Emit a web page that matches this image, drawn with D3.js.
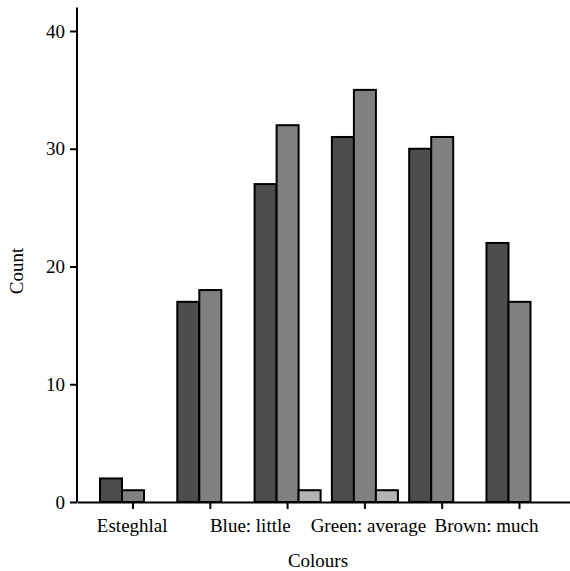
<!DOCTYPE html>
<html>
<head>
<meta charset="utf-8">
<style>
  body { margin: 0; background: #fff; }
  svg text { font-family: "Liberation Serif", "Times New Roman", Times, "DejaVu Serif", serif; fill: #000; }
</style>
</head>
<body>
<div class="chartContainer"></div>

<script src="https://d3js.org/d3.v7.min.js"></script>
<script>
    // data
    const groups = ['g1', 'g2', 'g3', 'g4', 'g5', 'g6'];
    const labels = ['Esteghlal', 'Blue: little', 'Green: average', 'Brown: much'];
    const series = ['s1', 's2', 's3'];
    const s1 = [2, 17, 27, 31, 30, 22];
    const s2 = [1, 18, 32, 35, 31, 17];
    const s3 = [0, 0, 1, 1, 0, 0];
    const yTicks = [0, 10, 20, 30, 40];
    const colours = ['#4d4d4d', '#808080', '#b3b3b3'];

    const values = [s1, s2, s3];
    const rows = groups.map((g, i) => ({ group: g, vals: series.map((s, j) => ({ key: s, v: values[j][i] })) }));

    const W = 570, H = 571;
    const FONT = '"Liberation Serif", "Times New Roman", Times, "DejaVu Serif", serif';
    const svg = d3.select('.chartContainer')
                  .append('svg')
                  .attr('width', W)
                  .attr('height', H)
                  .attr('font-family', FONT);

    const y = d3.scaleLinear().domain([0, 40]).range([502, 31]);
    const yTop = y(42);

    const x = d3.scaleBand().domain(groups).range([77, 570])
                .paddingInner(0.146).paddingOuter(0.262).align(0.568);
    const xs = d3.scaleBand().domain(series).range([0, x.bandwidth()]);
    const xl = d3.scalePoint().domain(labels).range([131.7, 486]);

    // bars
    svg.append('g')
       .selectAll('g')
       .data(rows)
       .enter()
       .append('g')
       .attr('transform', d => `translate(${x(d.group)},0)`)
       .selectAll('rect')
       .data(d => d.vals.filter(e => e.v > 0))
       .enter()
       .append('rect')
       .attr('x', d => xs(d.key))
       .attr('width', xs.bandwidth())
       .attr('y', d => y(d.v))
       .attr('height', d => y(0) - y(d.v))
       .style('fill', d => colours[series.indexOf(d.key)])
       .style('stroke', '#000')
       .style('stroke-width', 2);

    // y axis
    const yAxis = svg.append('g')
       .attr('transform', 'translate(77,0)')
       .call(d3.axisLeft(y).tickValues(yTicks).tickSize(7).tickPadding(5).tickSizeOuter(0));
    yAxis.attr('font-family', null);
    yAxis.select('.domain').attr('d', `M0,${yTop}V${y(0)}`);
    yAxis.selectAll('line, path').style('stroke', '#000').style('stroke-width', 2);
    yAxis.selectAll('text').style('font-size', '19px').style('font-family', FONT);

    // x axis with ticks at group centres
    const xAxis = svg.append('g')
       .attr('transform', `translate(0,${y(0)})`)
       .call(d3.axisBottom(x).tickSize(7).tickSizeOuter(0).tickFormat(''));
    xAxis.selectAll('line, path').style('stroke', '#000').style('stroke-width', 2);

    // category labels
    const lAxis = svg.append('g')
       .attr('transform', `translate(0,${y(0)})`)
       .call(d3.axisBottom(xl).tickSize(0));
    lAxis.attr('font-family', null);
    lAxis.select('.domain').remove();
    lAxis.selectAll('text').attr('dy', null).attr('y', 30)
         .style('font-size', '19px').style('font-family', FONT);

    // titles
    svg.append('text')
       .attr('x', 318).attr('y', 567)
       .attr('text-anchor', 'middle')
       .style('font-size', '19px')
       .style('font-family', FONT)
       .text('Colours');
    svg.append('text')
       .attr('transform', 'translate(23,271) rotate(-90)')
       .attr('text-anchor', 'middle')
       .style('font-size', '19px')
       .style('font-family', FONT)
       .text('Count');
</script>
</body>
</html>
